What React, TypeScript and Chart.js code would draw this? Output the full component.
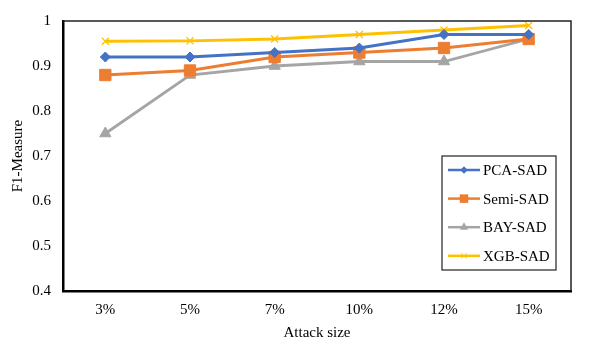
import React, { useEffect, useRef } from "react";
import { Chart, registerables } from "chart.js";

Chart.register(...registerables);

const categories = ["3%", "5%", "7%", "10%", "12%", "15%"];
const seriesNames = ["PCA-SAD", "Semi-SAD", "BAY-SAD", "XGB-SAD"];
const pcaSad = [0.92, 0.92, 0.93, 0.94, 0.97, 0.97];
const semiSad = [0.88, 0.89, 0.92, 0.93, 0.94, 0.96];
const baySad = [0.75, 0.88, 0.9, 0.91, 0.91, 0.96];
const xgbSad = [0.955, 0.956, 0.96, 0.97, 0.98, 0.99];
const yTicks = [0.4, 0.5, 0.6, 0.7, 0.8, 0.9, 1];

const colors = ["#4472C4", "#ED7D31", "#A5A5A5", "#FFC000"];
const styles = ["rectRot", "rect", "triangle", "crossRot"];
const radii = [5, 8, 6.5, 5];
const FONT = "'Liberation Serif', 'Times New Roman', serif";

function drawMarker(ctx: CanvasRenderingContext2D, style: string, r: number, x: number, y: number) {
  ctx.beginPath();
  if (style === "rectRot") {
    ctx.moveTo(x, y - r); ctx.lineTo(x + r, y); ctx.lineTo(x, y + r); ctx.lineTo(x - r, y); ctx.closePath(); ctx.fill();
  } else if (style === "rect") {
    const s = r * Math.SQRT1_2; ctx.rect(x - s, y - s, 2 * s, 2 * s); ctx.fill();
  } else if (style === "triangle") {
    const s = r; ctx.moveTo(x, y - s); ctx.lineTo(x + s * 0.87, y + s * 0.5); ctx.lineTo(x - s * 0.87, y + s * 0.5); ctx.closePath(); ctx.fill();
  } else {
    const s = r * Math.SQRT1_2; ctx.moveTo(x - s, y - s); ctx.lineTo(x + s, y + s); ctx.moveTo(x + s, y - s); ctx.lineTo(x - s, y + s); ctx.stroke();
  }
}

const frameAndLegend = {
  id: "frameAndLegend",
  afterDraw(chart: any) {
    const { ctx, chartArea } = chart;
    ctx.save();
    ctx.strokeStyle = "#222";
    ctx.lineWidth = 1.5;
    ctx.beginPath();
    ctx.moveTo(chartArea.left, chartArea.top);
    ctx.lineTo(chartArea.right, chartArea.top);
    ctx.lineTo(chartArea.right, chartArea.bottom);
    ctx.stroke();
    const w = 114, h = 114;
    const x0 = chartArea.right - 15 - w;
    const y0 = chartArea.bottom - 21 - h;
    ctx.fillStyle = "#fff";
    ctx.fillRect(x0, y0, w, h);
    ctx.strokeStyle = "#222";
    ctx.lineWidth = 1.2;
    ctx.strokeRect(x0, y0, w, h);
    ctx.font = `15px ${FONT}`;
    ctx.textBaseline = "middle";
    chart.data.datasets.forEach((ds: any, i: number) => {
      const cy = y0 + 14 + i * 28.6;
      ctx.strokeStyle = ds.borderColor;
      ctx.lineWidth = 2.5;
      ctx.beginPath();
      ctx.moveTo(x0 + 6, cy);
      ctx.lineTo(x0 + 38, cy);
      ctx.stroke();
      ctx.fillStyle = ds.borderColor;
      ctx.strokeStyle = ds.borderColor;
      ctx.lineWidth = 1;
      drawMarker(ctx, ds.pointStyle, ds.pointRadius * 0.75, x0 + 22, cy);
      ctx.fillStyle = "#000";
      ctx.fillText(ds.label, x0 + 41, cy + 1);
    });
    ctx.restore();
  },
};

export default function App() {
  const ref = useRef<HTMLCanvasElement>(null);
  useEffect(() => {
    document.body.style.margin = "0";
    const data = [pcaSad, semiSad, baySad, xgbSad];
    const chart = new Chart(ref.current!, {
      type: "line",
      data: {
        labels: categories,
        datasets: seriesNames.map((name, i) => ({
          label: name,
          data: data[i],
          borderColor: colors[i],
          backgroundColor: colors[i],
          pointBackgroundColor: colors[i],
          pointBorderColor: colors[i],
          pointStyle: styles[i] as any,
          pointRadius: radii[i],
          pointBorderWidth: i === 3 ? 1.2 : 1,
          borderWidth: 2.8,
          tension: 0,
          fill: false,
        })),
      },
      options: {
        animation: false,
        responsive: false,
        layout: { padding: { top: 21, right: 27, left: 0, bottom: 0 } },
        plugins: { legend: { display: false }, tooltip: { enabled: false } },
        scales: {
          x: {
            offset: true,
            grid: { display: false, drawTicks: false },
            border: { display: true, color: "#000", width: 2.5 },
            ticks: { color: "#000", font: { family: FONT, size: 15 }, padding: 10, maxRotation: 0 },
            title: { display: true, text: "Attack size", color: "#000", font: { family: FONT, size: 15 }, padding: { top: 0, bottom: 5 } },
            afterFit: (s: any) => { s.height = 56; },
          },
          y: {
            min: 0.4,
            max: 1,
            afterBuildTicks: (s: any) => { s.ticks = yTicks.map((v) => ({ value: v })); },
            grid: { display: false, drawTicks: false },
            border: { display: true, color: "#000", width: 2.5 },
            ticks: {
              color: "#000",
              font: { family: FONT, size: 15 },
              padding: 12,
              callback: (v: any) => (v === 1 ? "1" : Number(v).toFixed(1)),
            },
            title: { display: true, text: "F1-Measure", color: "#000", font: { family: FONT, size: 15 }, padding: { top: 9, bottom: 0 } },
            afterFit: (s: any) => { s.width = 63; },
          },
        },
      },
      plugins: [frameAndLegend],
    });
    return () => chart.destroy();
  }, []);
  return (
    <div style={{ position: "absolute", left: 0, top: 0, width: 598, height: 347, background: "#fff" }}>
      <canvas ref={ref} width={598} height={347} />
    </div>
  );
}
